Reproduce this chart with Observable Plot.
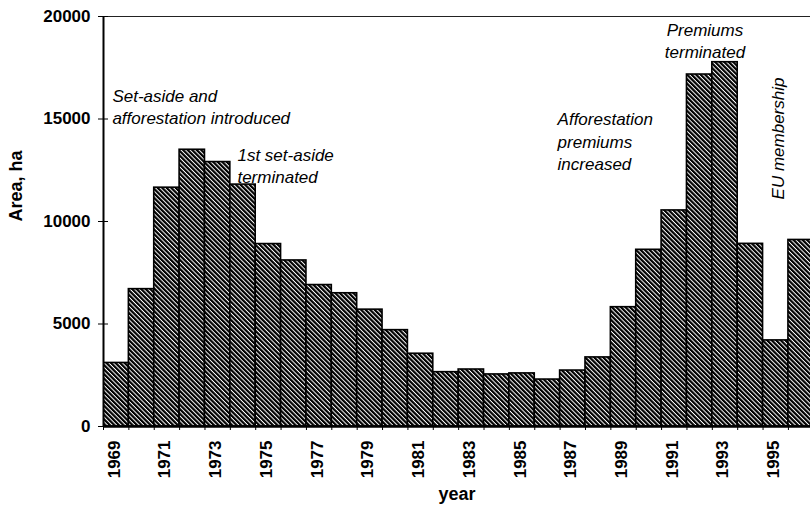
<!DOCTYPE html>
<html>
<head>
<meta charset="utf-8">
<script src="https://cdn.jsdelivr.net/npm/d3@7"></script>
<script src="https://cdn.jsdelivr.net/npm/@observablehq/plot@0.6"></script>
<style>
  html, body { margin: 0; padding: 0; background: white; }
</style>
</head>
<body>
<div id="chart"></div>
<script>
// Data
const years = [1969, 1970, 1971, 1972, 1973, 1974, 1975, 1976, 1977, 1978,
               1979, 1980, 1981, 1982, 1983, 1984, 1985, 1986, 1987, 1988,
               1989, 1990, 1991, 1992, 1993, 1994, 1995, 1996];
const area = [3100, 6700, 11650, 13500, 12900, 11800, 8900, 8100, 6900, 6500,
              5700, 4700, 3550, 2650, 2780, 2540, 2590, 2290, 2730, 3370,
              5820, 8620, 10540, 17170, 17770, 8910, 4200, 9100];
const yTicks = [0, 5000, 10000, 15000, 20000];
const labelYears = [1969, 1971, 1973, 1975, 1977, 1979, 1981, 1983, 1985, 1987, 1989, 1991, 1993, 1995];

// Annotations (anchored in data units)
const annoText = ["Set-aside and\nafforestation introduced", "1st set-aside\nterminated",
                  "Afforestation\npremiums\nincreased", "Premiums\nterminated", "EU membership"];
const annoYear = [1968.85, 1973.78, 1986.4, 1992.21, 1995.11];
const annoValue = [16600, 13700, 15450, 19800, 14049];
const annoKind = ["start", "start", "start", "middle", "vertical"];

const data = years.map((year, i) => ({year, area: area[i]}));
const annos = annoText.map((t, i) => ({t, x: annoYear[i], y: annoValue[i], kind: annoKind[i]}));

const chart = Plot.plot({
  width: 810,
  height: 510,
  marginLeft: 103,
  marginRight: 0,
  marginTop: 16,
  marginBottom: 84,
  style: {fontFamily: "'Liberation Sans', Arial, sans-serif", fontSize: "17px", background: "white", color: "black"},
  x: {type: "linear", domain: [1968.5, 1996.37]},
  y: {domain: [0, 20000]},
  marks: [
    Plot.rectY(data, {x1: d => d.year - 0.5, x2: d => d.year + 0.5, y: "area",
      fill: "url(#hatch)", stroke: "black", strokeWidth: 1.6, clip: true}),
    Plot.ruleY([20000], {stroke: "#222", strokeWidth: 1.2}),
    Plot.ruleX([1968.5], {stroke: "black", strokeWidth: 2}),
    Plot.ruleY([0], {stroke: "black", strokeWidth: 2.5}),
    Plot.axisY({ticks: yTicks, tickSize: 5, tickPadding: 8, tickFormat: d3.format("d"),
      fontWeight: "bold", label: null}),
    Plot.axisY({ticks: yTicks, tickSize: -5, text: null, label: null}),
    Plot.axisX({ticks: years.map(y => y - 0.5), tickSize: 4, text: null, label: null}),
    Plot.axisX({ticks: labelYears, tickSize: 0, tickRotate: -90, tickPadding: 14, dx: -2,
      tickFormat: d => String(d), fontWeight: "bold", label: null}),
    Plot.text(["Area, ha"], {frameAnchor: "left", rotate: -90, dx: -87, fontWeight: "bold", fontSize: 18}),
    Plot.text(["year"], {frameAnchor: "bottom", dy: 73, fontWeight: "bold", fontSize: 18}),
    Plot.text(annos.filter(d => d.kind === "start"), {x: "x", y: "y", text: "t", textAnchor: "start",
      lineAnchor: "top", lineHeight: 1.3, fontStyle: "italic", fontSize: 17}),
    Plot.text(annos.filter(d => d.kind === "middle"), {x: "x", y: "y", text: "t", textAnchor: "middle",
      lineAnchor: "top", lineHeight: 1.3, fontStyle: "italic", fontSize: 17}),
    Plot.text(annos.filter(d => d.kind === "vertical"), {x: "x", y: "y", text: "t", textAnchor: "middle",
      lineAnchor: "middle", rotate: -90, fontStyle: "italic", fontSize: 17})
  ]
});

// Hatch pattern definition
const svg = d3.select(chart);
const pat = svg.insert("defs", ":first-child")
  .append("pattern")
  .attr("id", "hatch")
  .attr("patternUnits", "userSpaceOnUse")
  .attr("width", 3.2)
  .attr("height", 3.2)
  .attr("patternTransform", "rotate(-45)");
pat.append("rect").attr("width", 3.2).attr("height", 3.2).attr("fill", "white");
pat.append("line").attr("x1", 1.1).attr("y1", 0).attr("x2", 1.1).attr("y2", 3.2)
  .attr("stroke", "black").attr("stroke-width", 2.2);

document.getElementById("chart").appendChild(chart);
</script>
</body>
</html>
